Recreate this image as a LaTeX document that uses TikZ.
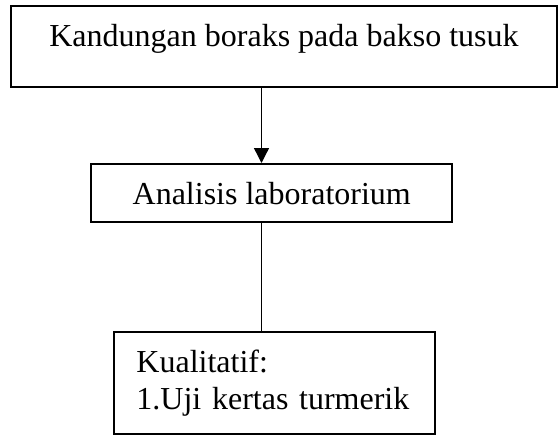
\documentclass[tikz,border=0pt]{standalone}
\usepackage{fontspec}
\setmainfont{Liberation Serif}
\usetikzlibrary{arrows.meta}

\tikzset{
    kotak/.style={draw=black, line width=1pt, inner ysep=0pt, font=\fontsize{16}{18.2}\selectfont},
    panah/.style={line width=0.65pt, -{Triangle[length=7.5pt,width=7.5pt]}}
}

\begin{document}
\begin{tikzpicture}[x=0.5pt,y=-0.5pt]
                \useasboundingbox (0,0) rectangle (559,435);
                \node[kotak, anchor=north, minimum width=273pt, text height=20pt, text depth=20.5pt] (kandungan) at (284,5) {Kandungan boraks pada bakso tusuk};
                \node[kotak, anchor=north, minimum width=180.75pt, text height=20pt, text depth=9pt] (analisis) at (271.75,163) {Analisis laboratorium};
                \node[kotak, anchor=north west, minimum height=51pt, inner xsep=11.25pt, text width=138pt, align=left] (kualitatif) at (113,331) {Kualitatif:\\1.Uji kertas turmerik};
                \coordinate (garis) at (261.5,0);
                \draw[panah] (kandungan.south -| garis) -- (analisis.north -| garis);
                \draw[line width=0.65pt] (analisis.south -| garis) -- (kualitatif.north -| garis);
            \end{tikzpicture}
\end{document}
